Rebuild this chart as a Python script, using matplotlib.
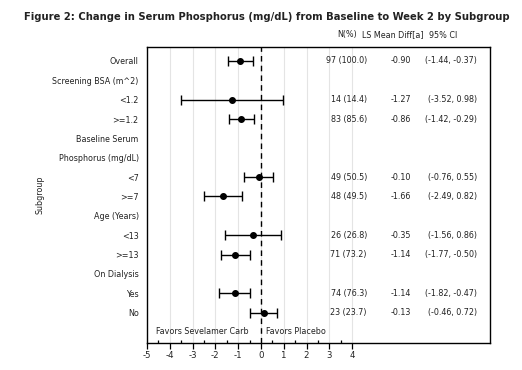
import numpy as np
import matplotlib
matplotlib.use("Agg")
import matplotlib.pyplot as plt
from matplotlib.ticker import FixedLocator

plt.rcParams['font.family'] = ['Liberation Sans Narrow', 'DejaVu Sans']
plt.rcParams['font.stretch'] = 'condensed'
plt.rcParams['axes.unicode_minus'] = False

# row labels, top to bottom
rows = ["Overall", "Screening BSA (m^2)", "<1.2", ">=1.2", "Baseline Serum",
        "Phosphorus (mg/dL)", "<7", ">=7", "Age (Years)", "<13", ">=13",
        "On Dialysis", "Yes", "No", ""]

# plotted estimates and CIs (None for header rows)
est = [-0.90, None, -1.27, -0.86, None, None, -0.10, -1.66, None, -0.35, -1.14, None, -1.14, 0.13]
lo = [-1.44, None, -3.52, -1.42, None, None, -0.76, -2.49, None, -1.56, -1.77, None, -1.82, -0.46]
hi = [-0.37, None, 0.98, -0.29, None, None, 0.55, -0.82, None, 0.86, -0.50, None, -0.47, 0.72]

# table columns as printed
n_pct = ["97 (100.0)", "", "14 (14.4)", "83 (85.6)", "", "", "49 (50.5)", "48 (49.5)", "",
         "26 (26.8)", "71 (73.2)", "", "74 (76.3)", "23 (23.7)"]
ls_mean = ["-0.90", "", "-1.27", "-0.86", "", "", "-0.10", "-1.66", "",
           "-0.35", "-1.14", "", "-1.14", "-0.13"]
ci_txt = ["(-1.44, -0.37)", "", "(-3.52, 0.98)", "(-1.42, -0.29)", "", "", "(-0.76, 0.55)",
          "(-2.49, 0.82)", "", "(-1.56, 0.86)", "(-1.77, -0.50)", "", "(-1.82, -0.47)",
          "(-0.46, 0.72)"]

fig = plt.figure(figsize=(5.22, 3.70), dpi=100)
ax = fig.add_axes([0.2816, 0.073, 0.6571, 0.8])

ypos = np.arange(1, len(rows) + 1)
txtc = '#222222'
fs = 6.4

# light vertical grid
for g in range(-4, 5):
    ax.axvline(g, color='#e4e4e4', linewidth=0.8, zorder=0)

ax.axvline(0, color='black', linestyle=(0, (4, 3)), linewidth=1.0, zorder=1)

for y, e, l, h in zip(ypos, est, lo, hi):
    if e is None:
        continue
    ax.errorbar(e, y, xerr=[[e - l], [h - e]], fmt='o', color='black', ms=4,
                capsize=3.5, elinewidth=1.0, capthick=1.0, zorder=3)

for y, a, b, c in zip(ypos, n_pct, ls_mean, ci_txt):
    ax.text(4.65, y, a, ha='right', va='center', fontsize=fs, color=txtc)
    ax.text(6.58, y, b, ha='right', va='center', fontsize=fs, color=txtc)
    ax.text(9.47, y, c, ha='right', va='center', fontsize=fs, color=txtc)

ax.text(-4.6, 15, "Favors Sevelamer Carb", ha='left', va='center', fontsize=fs, color=txtc)
ax.text(0.22, 15, "Favors Placebo", ha='left', va='center', fontsize=fs, color=txtc)

ax.set_xlim(-5, 10.05)
ax.set_ylim(15.57, 0.28)
ax.set_yticks(ypos)
ax.set_yticklabels(rows, fontsize=fs, color=txtc)
ax.tick_params(axis='y', length=0, pad=6)

ax.xaxis.set_major_locator(FixedLocator(range(-5, 5)))
ax.xaxis.set_minor_locator(FixedLocator(np.arange(-4.5, 4, 1.0)))
ax.tick_params(axis='x', which='major', direction='out', length=4, width=0.9,
               labelsize=6.8, pad=2, labelcolor=txtc)
ax.tick_params(axis='x', which='minor', direction='in', length=2, width=0.9)

for s in ax.spines.values():
    s.set_linewidth(1.0)

ax.set_ylabel("Subgroup", fontsize=fs, color=txtc)
ax.yaxis.set_label_coords(-0.3, 0.5)

title = fig.text(267 / 522, 1 - 17 / 370,
                 "Figure 2: Change in Serum Phosphorus (mg/dL) from Baseline to Week 2 by Subgroup",
                 ha='center', va='center', fontsize=10, fontweight='bold', color=txtc)
# shrink the title so it spans about 485 px like the original
fig.canvas.draw()
w = title.get_window_extent().width
title.set_fontsize(10 * 485 / w)

fig.text(347 / 522, 1 - 35 / 370, "N(%)", ha='center', va='center', fontsize=fs, color=txtc)
fig.text(393 / 522, 1 - 35 / 370, "LS Mean Diff[a]", ha='center', va='center', fontsize=fs, color=txtc)
fig.text(443 / 522, 1 - 35 / 370, "95% CI", ha='center', va='center', fontsize=fs, color=txtc)

fig.savefig("out.png", dpi=100)
